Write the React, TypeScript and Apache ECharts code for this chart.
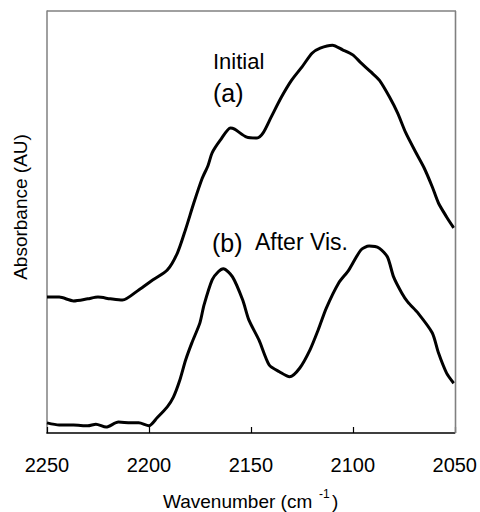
import React, { useEffect, useRef } from "react";
import * as echarts from "echarts";

const wavenumbersA = [2250, 2244, 2237, 2230, 2225, 2219, 2213, 2205, 2198, 2191, 2186, 2182, 2178, 2174, 2171, 2169, 2165, 2160, 2158, 2152, 2147, 2144, 2140, 2135, 2130, 2125, 2120, 2116, 2110, 2105, 2100, 2096, 2091, 2087, 2082, 2078, 2074, 2069, 2065, 2061, 2058, 2054, 2050.5];
const absorbanceA = [32.2, 32.2, 31.3, 31.8, 32.2, 31.8, 31.5, 33.9, 36.3, 38.6, 42.7, 48.3, 54.5, 60.2, 63.4, 66.4, 69.4, 72.3, 72.0, 70.1, 69.9, 71.1, 74.9, 79.6, 83.6, 86.7, 90.0, 91.2, 91.9, 90.8, 89.6, 87.7, 85.5, 83.6, 79.6, 75.8, 71.1, 66.4, 62.8, 58.3, 54.5, 51.2, 48.6];

const wavenumbersB = [2250, 2244, 2237, 2230, 2226, 2221, 2215, 2209, 2205, 2200, 2196, 2191, 2188, 2185, 2182, 2179, 2175, 2173, 2169, 2166, 2163.5, 2159, 2154, 2151, 2146, 2141, 2136, 2131, 2126, 2121, 2117, 2113, 2107, 2102, 2096, 2092, 2087, 2083, 2080, 2076, 2073, 2068, 2061, 2058, 2054, 2050.5];
const absorbanceB = [2.4, 1.9, 1.9, 1.7, 2.1, 1.4, 2.6, 2.4, 2.4, 1.7, 3.6, 6.2, 8.5, 12.3, 17.3, 21.3, 26.1, 30.3, 36.3, 38.2, 38.9, 37.0, 31.5, 26.8, 22.0, 16.1, 14.5, 13.3, 15.4, 19.7, 24.4, 29.6, 35.5, 38.6, 43.4, 44.3, 43.8, 41.7, 37.0, 33.2, 31.0, 28.4, 23.7, 19.0, 14.2, 11.8];

const xTicks = [2250, 2200, 2150, 2100, 2050];
const labelA = ["Initial", "(a)"];
const labelB = ["(b)", "After Vis."];
const xTitle = ["Wavenumber (cm", "-1", ")"];
const yTitle = "Absorbance (AU)";

const FONT = "Liberation Sans, Arial, sans-serif";
const FRAME = "#808080";

export default function App() {
  const ref = useRef<HTMLDivElement>(null);
  useEffect(() => {
    if (!ref.current) return;
    const chart = echarts.init(ref.current, undefined, { renderer: "svg" });
    const toPairs = (xs: number[], ys: number[]) => xs.map((x, i) => [x, ys[i]]);
    chart.setOption({
      animation: false,
      backgroundColor: "#ffffff",
      grid: { left: 47, right: 24, top: 11, bottom: 79 },
      xAxis: {
        type: "value",
        inverse: true,
        min: 2050,
        max: 2250,
        interval: 50,
        splitLine: { show: false },
        axisLine: { show: true, onZero: false, lineStyle: { color: "#000", width: 1.5 } },
        axisTick: { show: true, inside: true, length: 6, lineStyle: { color: "#000", width: 1.2 } },
        axisLabel: {
          fontSize: 20,
          color: "#000",
          fontFamily: FONT,
          margin: 22,
          formatter: (v: number) => (xTicks.includes(v) ? String(v) : ""),
        },
      },
      yAxis: {
        type: "value",
        min: 0,
        max: 100,
        splitLine: { show: false },
        axisLine: { show: true, onZero: false, lineStyle: { color: FRAME, width: 1.5 } },
        axisTick: { show: false },
        axisLabel: { show: false },
      },
      series: [
        {
          type: "line",
          data: toPairs(wavenumbersA, absorbanceA),
          smooth: 0.25,
          showSymbol: false,
          lineStyle: { color: "#000", width: 3 },
        },
        {
          type: "line",
          data: toPairs(wavenumbersB, absorbanceB),
          smooth: 0.25,
          showSymbol: false,
          lineStyle: { color: "#000", width: 3 },
        },
      ],
      graphic: [
        {
          type: "line",
          z: 10,
          shape: { x1: 47, y1: 11, x2: 456, y2: 11 },
          style: { stroke: FRAME, lineWidth: 1.6 },
        },
        {
          type: "line",
          z: 10,
          shape: { x1: 455.5, y1: 11, x2: 455.5, y2: 433 },
          style: { stroke: FRAME, lineWidth: 1.6 },
        },
        {
          type: "text",
          left: 213,
          top: 50,
          style: { text: labelA[0], fontSize: 22, fontFamily: FONT, fill: "#000" },
        },
        {
          type: "text",
          left: 213,
          top: 80,
          style: { text: labelA[1], fontSize: 25, fontFamily: FONT, fill: "#000" },
        },
        {
          type: "text",
          left: 212,
          top: 230,
          style: { text: labelB[0], fontSize: 25, fontFamily: FONT, fill: "#000" },
        },
        {
          type: "text",
          left: 255,
          top: 230,
          style: { text: labelB[1], fontSize: 23, fontFamily: FONT, fill: "#000" },
        },
        {
          type: "text",
          x: 20,
          y: 207,
          rotation: Math.PI / 2,
          style: {
            text: yTitle,
            fontSize: 19,
            fontFamily: FONT,
            fill: "#000",
            textAlign: "center",
            textVerticalAlign: "middle",
          },
        },
        {
          type: "text",
          x: 163,
          y: 501,
          style: {
            text: xTitle[0],
            fontSize: 19,
            fontFamily: FONT,
            fill: "#000",
            textAlign: "left",
            textVerticalAlign: "middle",
          },
        },
        {
          type: "text",
          x: 319,
          y: 494,
          style: {
            text: xTitle[1],
            fontSize: 12,
            fontFamily: FONT,
            fill: "#000",
            textAlign: "left",
            textVerticalAlign: "middle",
          },
        },
        {
          type: "text",
          x: 332,
          y: 501,
          style: {
            text: xTitle[2],
            fontSize: 19,
            fontFamily: FONT,
            fill: "#000",
            textAlign: "left",
            textVerticalAlign: "middle",
          },
        },
      ],
    });
    return () => chart.dispose();
  }, []);
  return (
    <div
      ref={ref}
      style={{ position: "fixed", left: 0, top: 0, width: 480, height: 512 }}
    />
  );
}
